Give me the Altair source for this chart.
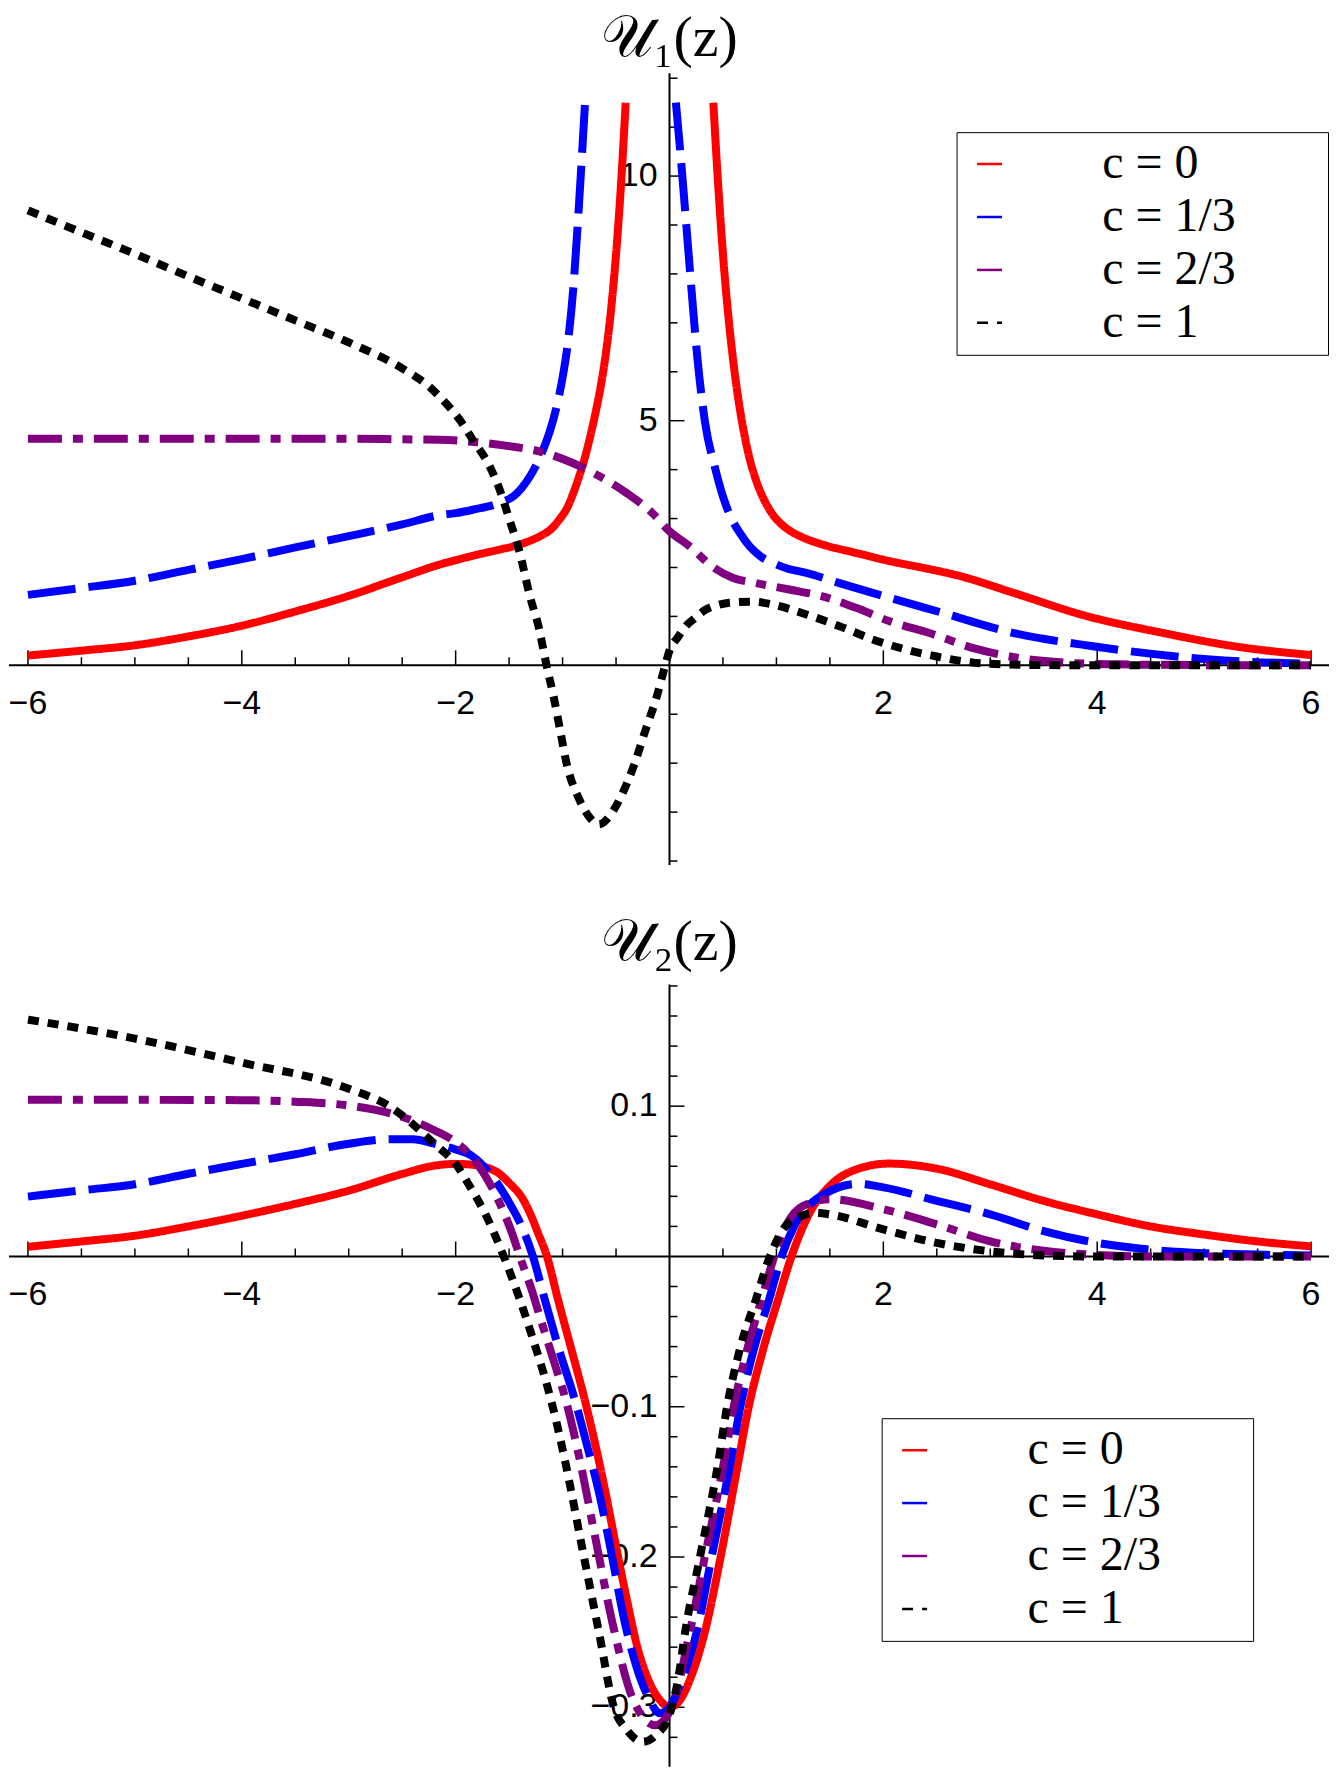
import altair as alt
import pandas as pd

SERIES = ["c = 0", "c = 1/3", "c = 2/3", "c = 1"]
COLORS = ["#ff0000", "#0000ff", "#800080", "#000000"]
DASHES = [[1, 0], [48, 13], [34, 11, 10, 11], [11, 9]]

# ---------------- top panel: U1(z) ----------------
u1_red_left_x = [-6, -5.5, -5, -4.5, -4, -3.5, -3, -2.5, -2.15, -2, -1.84, -1.6, -1.43, -1.3, -1.21, -1.1, -1.03,
                 -0.95, -0.9, -0.85, -0.8, -0.75, -0.7, -0.65, -0.6, -0.55, -0.5, -0.45, -0.41]
u1_red_left_y = [0.20, 0.30, 0.41, 0.59, 0.81, 1.10, 1.42, 1.80, 2.06, 2.15, 2.24, 2.36, 2.45, 2.55, 2.64, 2.80, 2.98,
                 3.25, 3.52, 3.83, 4.18, 4.60, 5.08, 5.62, 6.30, 7.20, 8.40, 9.95, 11.5]
u1_red_right_x = [0.41, 0.45, 0.5, 0.55, 0.6, 0.65, 0.7, 0.75, 0.81, 0.89, 0.966, 1.04, 1.12, 1.24, 1.43, 1.74,
                  2.06, 2.4, 2.69, 3.22, 3.88, 4.62, 5.28, 6.0]
u1_red_right_y = [11.5, 10.0, 8.4, 7.15, 6.15, 5.35, 4.72, 4.22, 3.78, 3.36, 3.08, 2.90, 2.76, 2.62, 2.47, 2.30,
                  2.13, 1.98, 1.84, 1.48, 1.02, 0.66, 0.39, 0.21]
u1_blue_left_x = [-6, -5.5, -5, -4.5, -4, -3.5, -3, -2.5, -2.15, -2, -1.84, -1.59, -1.45, -1.38, -1.3, -1.24, -1.18,
                  -1.12, -1.06, -1.0, -0.95, -0.9, -0.85, -0.79]
u1_blue_left_y = [1.44, 1.58, 1.73, 1.95, 2.17, 2.41, 2.64, 2.88, 3.07, 3.11, 3.18, 3.32, 3.47, 3.63, 3.88, 4.12, 4.42,
                  4.78, 5.25, 5.88, 6.60, 7.70, 9.30, 11.5]
u1_blue_right_x = [0.06, 0.12, 0.19, 0.26, 0.33, 0.43, 0.50, 0.58, 0.66, 0.75, 0.85, 0.97, 1.1, 1.28, 1.59, 2.06,
                   2.51, 3.22, 3.96, 5.06, 6.0]
u1_blue_right_y = [11.5, 10.0, 8.1, 6.3, 5.0, 4.0, 3.45, 3.0, 2.70, 2.43, 2.23, 2.09, 1.98, 1.89, 1.68, 1.38,
                   1.10, 0.66, 0.39, 0.12, 0.03]
u1_purple_x = [-6, -5, -4, -3, -2.5, -2.15, -1.8, -1.5, -1.21, -0.9, -0.65, -0.4, -0.16, 0, 0.19, 0.40, 0.59, 0.81,
               1.12, 1.43, 1.74, 2.06, 2.43, 2.86, 3.30, 3.74, 4.2, 4.62, 5.5, 6.0]
u1_purple_y = [4.63, 4.63, 4.63, 4.63, 4.62, 4.61, 4.56, 4.48, 4.37, 4.13, 3.86, 3.52, 3.11, 2.74, 2.43, 2.02, 1.79,
               1.68, 1.55, 1.41, 1.18, 0.90, 0.66, 0.34, 0.14, 0.05, 0.02, 0.01, 0.0, 0.0]
u1_black_x = [-6, -5.5, -5, -4.5, -4, -3.5, -3, -2.5, -2.25, -2.15, -1.96, -1.84, -1.68, -1.59, -1.5, -1.4, -1.31,
              -1.22, -1.15, -1.08, -1.02, -0.96, -0.85, -0.75, -0.66, -0.55, -0.46, -0.33, -0.23, -0.125, -0.04, 0,
              0.08, 0.16, 0.23, 0.34, 0.45, 0.56, 0.78, 0.97, 1.28, 1.59, 1.9, 2.2, 2.5, 2.86, 3.3, 4, 5, 6]
u1_black_y = [9.30, 8.85, 8.41, 7.95, 7.50, 7.05, 6.60, 6.07, 5.70, 5.49, 5.01, 4.61, 4.06, 3.6, 3.0, 2.3, 1.45,
              0.75, 0.0, -0.68, -1.36, -2.03, -2.71, -3.1, -3.25, -3.05, -2.71, -2.03, -1.36, -0.68, 0.0, 0.30,
              0.58, 0.82, 0.95, 1.14, 1.23, 1.28, 1.30, 1.24, 1.04, 0.80, 0.53, 0.33, 0.18, 0.05, 0.01, 0.0, 0.0, 0.0]

# ---------------- bottom panel: U2(z) ----------------
u2_red_x = [-6, -5.5, -5, -4.5, -4, -3.5, -3, -2.5, -2.2, -2.0, -1.87, -1.634, -1.5, -1.37, -1.3, -1.23, -1.146,
            -1.043, -0.918, -0.794, -0.685, -0.59, -0.5, -0.4, -0.3, -0.19, -0.08, 0, 0.1, 0.2, 0.33, 0.47, 0.643,
            0.736, 0.876, 1.016, 1.141, 1.296, 1.53, 1.75, 2.05, 2.5, 3, 3.5, 4, 4.5, 5, 5.5, 6]
u2_red_y = [0.0064, 0.010, 0.0138, 0.020, 0.0271, 0.035, 0.0438, 0.0549, 0.0604, 0.0616, 0.0612, 0.057, 0.049,
            0.038, 0.028, 0.0157, 0.0, -0.0286, -0.0618, -0.095, -0.128, -0.16, -0.193, -0.228, -0.26, -0.283,
            -0.296, -0.300, -0.295, -0.28, -0.25, -0.203, -0.137, -0.1017, -0.0618, -0.0286, 0.0, 0.027, 0.049,
            0.058, 0.0618, 0.0584, 0.048, 0.037, 0.028, 0.020, 0.0146, 0.010, 0.0067]
u2_blue_x = [-6, -5.5, -5, -4.5, -4, -3.5, -3, -2.6, -2.4, -2.2, -2.0, -1.85, -1.634, -1.5, -1.37, -1.277, -1.167,
             -1.034, -0.887, -0.763, -0.65, -0.55, -0.42, -0.3, -0.2, -0.09, 0, 0.1, 0.254, 0.394, 0.571, 0.658,
             0.789, 0.932, 1.048, 1.172, 1.436, 1.76, 2.0, 2.5, 3, 3.5, 4, 4.5, 5, 6]
u2_blue_y = [0.0398, 0.044, 0.048, 0.055, 0.0616, 0.068, 0.075, 0.078, 0.078, 0.075, 0.0712, 0.067, 0.051, 0.036,
             0.018, 0.0, -0.0286, -0.0618, -0.095, -0.128, -0.16, -0.195, -0.243, -0.275, -0.293, -0.304, -0.300,
             -0.285, -0.25, -0.20, -0.137, -0.1017, -0.0618, -0.0286, 0.0, 0.021, 0.041, 0.0483, 0.046, 0.037,
             0.028, 0.0169, 0.009, 0.0045, 0.0022, 0.0007]
u2_purple_x = [-6, -5, -4, -3.5, -3, -2.6, -2.2, -2.0, -1.8, -1.634, -1.463, -1.40, -1.29, -1.214, -1.136, -1.058,
               -0.98, -0.84, -0.7, -0.53, -0.34, -0.133, 0.02, 0.19, 0.33, 0.509, 0.596, 0.727, 0.876, 0.98, 1.094,
               1.25, 1.51, 2.0, 2.5, 3.0, 3.5, 4.0, 4.5, 6]
u2_purple_y = [0.1042, 0.1042, 0.104, 0.103, 0.1004, 0.095, 0.084, 0.076, 0.062, 0.0423, 0.0135, 0.0, -0.022,
               -0.0397, -0.0574, -0.075, -0.093, -0.135, -0.185, -0.245, -0.295, -0.312, -0.30, -0.25, -0.20,
               -0.137, -0.1017, -0.0618, -0.025, 0.0, 0.021, 0.0337, 0.038, 0.0315, 0.0213, 0.010, 0.0038, 0.001,
               0.0, 0.0]
u2_black_x = [-6, -5, -4, -3, -2.6, -2.4, -2.2, -2.0, -1.868, -1.712, -1.55, -1.40, -1.277, -1.152, -1.058, -0.98,
              -0.80, -0.66, -0.52, -0.4, -0.25, -0.12, 0, 0.084, 0.146, 0.285, 0.456, 0.534, 0.658, 0.808, 0.939,
              1.094, 1.2, 1.37, 1.5, 2.0, 2.5, 3.0, 3.5, 4.0, 6]
u2_black_y = [0.1576, 0.145, 0.129, 0.1116, 0.099, 0.088, 0.075, 0.0616, 0.0467, 0.0268, 0.0, -0.0286, -0.055,
              -0.084, -0.110, -0.135, -0.20, -0.25, -0.30, -0.315, -0.323, -0.318, -0.305, -0.28, -0.25, -0.20,
              -0.137, -0.1017, -0.0618, -0.0286, 0.0, 0.021, 0.026, 0.029, 0.028, 0.018, 0.009, 0.0034, 0.0007,
              0.0, 0.0]

# ---------------- ticks ----------------
x_major = [-6, -4, -2, 2, 4, 6]
x_major_labels = ["\u22126", "\u22124", "\u22122", "2", "4", "6"]
x_minor = [-5.5, -5, -4.5, -3.5, -3, -2.5, -1.5, -1, -0.5, 0.5, 1, 1.5, 2.5, 3, 3.5, 4.5, 5, 5.5]
u1_y_major = [5, 10]
u1_y_major_labels = ["5", "10"]
u1_y_minor = [-4, -3, -2, -1, 1, 2, 3, 4, 6, 7, 8, 9, 11, 12]
u2_y_major = [-0.3, -0.2, -0.1, 0.1]
u2_y_major_labels = ["\u22120.3", "\u22120.2", "\u22120.1", "0.1"]
u2_y_minor = [-0.32, -0.28, -0.26, -0.24, -0.22, -0.18, -0.16, -0.14, -0.12, -0.08, -0.06, -0.04, -0.02,
              0.02, 0.04, 0.06, 0.08, 0.12, 0.14, 0.16, 0.18]

W = 1322
X_DOMAIN = [-6.1774, 6.168]
LABEL_PAD = "\u00a0" * 7 + "\u200b"


def frame(parts):
    rows = []
    for label, branch, xs, ys in parts:
        for x, y in zip(xs, ys):
            rows.append({"x": x, "y": y, "c": label, "branch": branch})
    return pd.DataFrame(rows)


def panel(df, H, ydom, yaxis_lo, yaxis_hi, ymaj, ymaj_lab, ymin, title, title_y, lx, ly):
    xs = alt.Scale(domain=X_DOMAIN, nice=False, zero=False)
    ys = alt.Scale(domain=ydom, nice=False, zero=False)

    def X(f):
        return alt.X(f, scale=xs, axis=None)

    def Y(f):
        return alt.Y(f, scale=ys, axis=None)

    xline_df = pd.DataFrame({"z": [0]})
    yline_df = pd.DataFrame({"z": [0], "lo": [yaxis_lo], "hi": [yaxis_hi]})
    xmaj_df = pd.DataFrame({"v": x_major, "label": x_major_labels, "z": 0})
    xmin_df = pd.DataFrame({"v": x_minor, "z": 0})
    ymaj_df = pd.DataFrame({"v": ymaj, "label": ymaj_lab, "z": 0})
    ymin_df = pd.DataFrame({"v": ymin, "z": 0})
    ttl_df = pd.DataFrame({"t": [title], "tx": [0], "ty": [title_y]})

    xaxis = alt.Chart(xline_df).mark_rule(color="black", strokeWidth=2).encode(
        x=alt.value(0), x2=alt.value(W), y=Y("z:Q"))
    yaxis = alt.Chart(yline_df).mark_rule(color="black", strokeWidth=2).encode(
        x=X("z:Q"), y=Y("lo:Q"), y2="hi:Q")

    xt_major = alt.Chart(xmaj_df).mark_rule(color="black", strokeWidth=1.5, y2Offset=-15).encode(
        x=X("v:Q"), y=Y("z:Q"), y2="z:Q")
    xt_minor = alt.Chart(xmin_df).mark_rule(color="black", strokeWidth=1.5, y2Offset=-8).encode(
        x=X("v:Q"), y=Y("z:Q"), y2="z:Q")
    yt_major = alt.Chart(ymaj_df).mark_rule(color="black", strokeWidth=1.5, x2Offset=15).encode(
        y=Y("v:Q"), x=X("z:Q"), x2="z:Q")
    yt_minor = alt.Chart(ymin_df).mark_rule(color="black", strokeWidth=1.5, x2Offset=8).encode(
        y=Y("v:Q"), x=X("z:Q"), x2="z:Q")

    xlab = alt.Chart(xmaj_df).mark_text(font="Liberation Sans", fontSize=34, dy=39, baseline="middle",
                                        align="center", color="black").encode(
        x=X("v:Q"), y=Y("z:Q"), text="label:N")
    ylab = alt.Chart(ymaj_df).mark_text(font="Liberation Sans", fontSize=34, dx=-12, baseline="middle",
                                        align="right", color="black").encode(
        y=Y("v:Q"), x=X("z:Q"), text="label:N")

    ttl = alt.Chart(ttl_df).mark_text(
        font="Liberation Serif", fontSize=58, baseline="top", align="center", color="black").encode(
        x=X("tx:Q"), y=Y("ty:Q"), text="t:N")

    leg = alt.Legend(title=None, orient="none", legendX=lx, legendY=ly, padding=8, strokeColor="black",
                     symbolType="stroke", symbolSize=625, symbolStrokeWidth=2.5, symbolOffset=1,
                     labelFont="Liberation Serif", labelFontSize=48, labelOffset=89, labelLimit=600,
                     rowPadding=5, labelColor="black", labelExpr="datum.label + '" + LABEL_PAD + "'")
    lines = alt.Chart(df).mark_line(strokeWidth=8, interpolate="monotone").encode(
        x=X("x:Q"),
        y=Y("y:Q"),
        color=alt.Color("c:N", scale=alt.Scale(domain=SERIES, range=COLORS), legend=leg),
        strokeDash=alt.StrokeDash("c:N", scale=alt.Scale(domain=SERIES, range=DASHES), legend=leg),
        detail="branch:N",
    )
    return alt.layer(xaxis, yaxis, xt_major, xt_minor, yt_major, yt_minor, xlab, ylab, ttl, lines).properties(
        width=W, height=H)


df1 = frame([
    (SERIES[0], "r1", u1_red_left_x, u1_red_left_y),
    (SERIES[0], "r2", u1_red_right_x, u1_red_right_y),
    (SERIES[1], "b1", u1_blue_left_x, u1_blue_left_y),
    (SERIES[1], "b2", u1_blue_right_x, u1_blue_right_y),
    (SERIES[2], "p", u1_purple_x, u1_purple_y),
    (SERIES[3], "k", u1_black_x, u1_black_y),
])
df2 = frame([
    (SERIES[0], "r", u2_red_x, u2_red_y),
    (SERIES[1], "b", u2_blue_x, u2_blue_y),
    (SERIES[2], "p", u2_purple_x, u2_purple_y),
    (SERIES[3], "k", u2_black_x, u2_black_y),
])

top = panel(df1, 860, [-4.143, 13.408], -4.08, 12.1, u1_y_major, u1_y_major_labels, u1_y_minor,
            "\U0001D4B0\u2081(z)", 13.40, 949, 123)
bottom = panel(df2, 900, [-0.33953, 0.25847], -0.33953, 0.181, u2_y_major, u2_y_major_labels, u2_y_minor,
               "\U0001D4B0\u2082(z)", 0.2279, 874, 551)

chart = alt.vconcat(top, bottom, spacing=0).resolve_scale(
    y="independent", color="independent", strokeDash="independent"
).resolve_legend(color="independent", strokeDash="independent").configure_view(stroke=None).properties(
    padding=0, background="white")

chart.save("out.html", embed_options={"renderer": "svg", "actions": False})
